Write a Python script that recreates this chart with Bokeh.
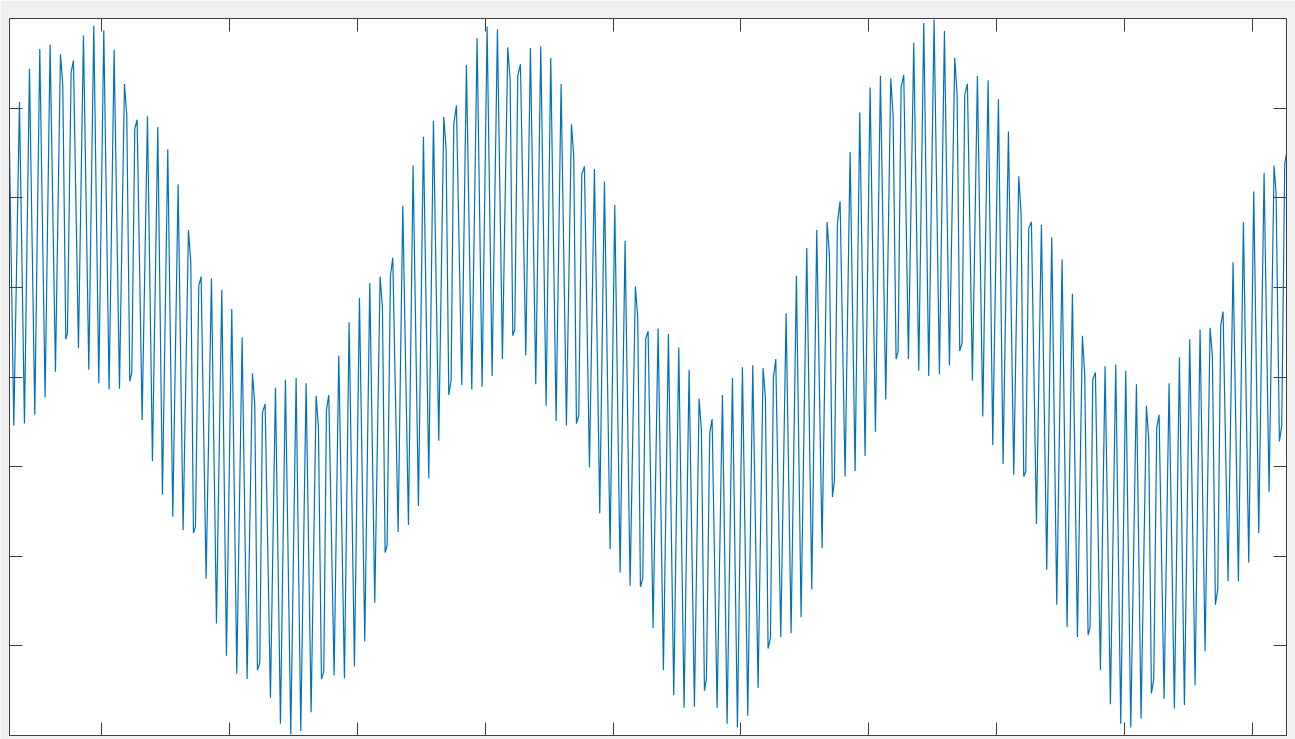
from bokeh.plotting import figure
from bokeh.models import Range1d, LinearAxis, FixedTicker, ColumnDataSource
from bokeh.embed import file_html
from bokeh.resources import INLINE

# ---- data (vertex positions of the trace) ----
# x in sample units (ticks every 100), y in signal units (-4 .. 4)
x_part1 = [28.10, 31.46, 35.89, 39.79, 43.70, 47.87, 51.78, 55.95, 59.86, 64.03,
           67.94, 69.76, 72.11, 73.41, 76.28, 78.10, 82.01, 85.92, 90.09, 94.00,
           97.91, 101.82, 105.99, 109.90, 114.07, 117.97, 119.80, 122.14, 123.71, 126.05,
           127.88, 131.79, 135.96, 139.86, 144.03, 147.68, 151.85, 155.76, 159.93, 163.84,
           168.01, 169.83, 171.92, 173.48, 176.09, 177.91, 181.82, 185.99, 189.90, 194.07,
           197.72, 201.89, 205.80, 209.97, 213.88, 218.04, 219.87, 221.95, 223.78, 225.86,
           227.95, 232.12, 236.03, 239.94, 243.84, 248.01, 252.18, 255.83, 260.00, 263.91,
           267.82, 269.64, 271.99, 273.81, 275.90, 277.72, 281.89, 285.54, 289.97, 293.62,
           297.79, 301.70, 305.87, 309.78, 313.68, 317.85, 319.68, 321.76, 323.33, 325.93,
           327.76, 331.93, 335.58, 340.01, 343.65, 347.82, 351.73, 355.90, 359.55]
y_part1 = [2.54, -0.54, 3.07, -0.52, 3.44, -0.42, 3.66, -0.23, 3.71, 0.06,
           3.60, 3.26, 0.42, 0.49, 3.40, 3.53, 0.32, 3.81, 0.08, 3.92,
           -0.07, 3.87, -0.14, 3.65, -0.13, 3.27, 2.92, -0.05, 0.05, 2.77,
           2.87, -0.48, 2.91, -0.94, 2.79, -1.31, 2.54, -1.56, 2.15, -1.71,
           1.64, 1.28, -1.74, -1.67, 1.02, 1.12, -2.25, 1.10, -2.75, 0.97,
           -3.11, 0.76, -3.31, 0.44, -3.37, 0.04, -0.31, -3.27, -3.19, -0.40,
           -0.30, -3.58, -0.12, -3.87, -0.03, -3.99, -0.01, -3.95, -0.07, -3.74,
           -0.21, -0.57, -3.37, -3.29, -0.37, -0.20, -3.33, 0.24, -3.36, 0.61,
           -3.23, 0.88, -2.95, 1.05, -2.52, 1.12, 0.77, -1.96, -1.88, 1.13,
           1.33, -1.73, 1.91, -1.65, 2.36, -1.44, 2.68, -1.13, 2.86]

x_part2 = [363.72, 367.63, 369.45, 371.54, 373.36, 375.45, 377.53, 381.70, 385.35, 389.52,
           393.69, 397.60, 401.51, 405.42, 409.59, 413.49, 417.66, 419.49, 421.57, 423.14,
           425.48, 427.57, 431.74, 435.39, 439.55, 443.46, 447.63, 451.28, 455.45, 459.36,
           463.53, 467.44, 469.26, 471.35, 473.17, 475.52, 477.60, 481.51, 485.42, 489.59,
           493.24, 497.67, 501.32, 505.49, 509.40, 513.30, 517.47, 519.30, 521.38, 523.21,
           525.55, 527.38, 531.29, 535.20, 539.36, 543.27, 547.44, 551.35, 555.52, 559.43,
           563.60, 567.25, 569.07, 571.42, 572.98, 575.59, 577.41, 581.32, 585.49, 589.14,
           593.31, 597.22, 601.13, 605.30, 609.21, 613.37, 617.28, 619.11, 621.19, 623.02,
           625.36, 627.19, 631.10, 635.27, 639.17, 643.34, 646.99, 651.42, 655.33, 659.24,
           663.41, 667.32, 669.14, 671.49, 673.05, 675.40, 677.48, 681.39, 685.30, 689.21,
           692.86]
y_part2 = [-0.71, 2.90, 2.54, -0.20, -0.03, 2.82, 3.03, -0.09, 3.48, -0.14,
           3.78, -0.11, 3.91, 0.01, 3.88, 0.20, 3.68, 3.32, 0.46, 0.53,
           3.36, 3.49, 0.24, 3.67, -0.08, 3.69, -0.32, 3.56, -0.49, 3.27,
           -0.54, 2.82, 2.46, -0.52, -0.43, 2.26, 2.35, -1.01, 2.32, -1.52,
           2.18, -1.92, 1.92, -2.18, 1.52, -2.33, 1.01, 0.66, -2.34, -2.25,
           0.43, 0.51, -2.80, 0.54, -3.27, 0.48, -3.55, 0.33, -3.69, 0.08,
           -3.68, -0.24, -0.60, -3.50, -3.37, -0.62, -0.47, -3.69, -0.20, -3.87,
           -0.01, -3.91, 0.11, -3.78, 0.13, -3.47, 0.10, -0.24, -3.03, -2.91,
           -0.01, 0.20, -2.90, 0.71, -2.86, 1.13, -2.68, 1.44, -2.37, 1.64,
           -1.91, 1.73, 1.36, -1.34, -1.16, 1.72, 1.96, -1.11, 2.51, -1.05,
           2.95]

x_part3 = [697.03, 700.94, 705.11, 709.02, 713.18, 717.09, 718.92, 721.26, 722.83, 725.17,
           727.26, 730.91, 735.08, 738.98, 742.89, 746.80, 750.97, 755.14, 759.05, 762.96,
           767.13, 768.95, 771.04, 772.86, 774.95, 777.03, 780.94, 784.85, 789.02, 793.19,
           796.84, 801.27, 804.92, 809.09, 813.26, 817.16, 818.99, 821.07, 822.64, 824.98,
           827.07, 830.98, 834.88, 839.05, 842.96, 846.87, 851.04, 854.95, 859.12, 863.03,
           866.93, 868.76, 871.37, 872.93, 875.02, 877.10, 881.01, 884.66, 888.83, 893.00,
           896.91, 900.82, 904.73, 909.16, 912.80, 916.97, 918.80, 920.88, 922.71, 925.05,
           926.88, 930.79, 934.69, 938.86, 942.77, 946.68, 950.85, 955.02, 958.93, 962.84,
           966.75, 968.57, 970.92, 972.74, 975.09, 976.91, 980.82, 984.73, 988.90, 992.81,
           996.98, 1000.89, 1004.80, 1008.97, 1012.87, 1016.78, 1018.35, 1020.95, 1022.78, 1025.12,
           1026.43]
y_part3 = [-0.88, 3.23, -0.61, 3.36, -0.25, 3.33, 2.92, 0.20, 0.28, 3.23,
           3.37, 0.20, 3.73, 0.07, 3.95, 0.01, 3.99, 0.03, 3.86, 0.13,
           3.56, 3.15, 0.29, 0.38, 3.15, 3.27, -0.04, 3.36, -0.44, 3.31,
           -0.76, 3.10, -0.97, 2.74, -1.09, 2.24, 1.82, -1.11, -1.06, 1.66,
           1.73, -1.64, 1.70, -2.15, 1.56, -2.54, 1.31, -2.79, 0.93, -2.90,
           0.46, 0.02, -2.88, -2.79, -0.03, 0.05, -3.27, 0.12, -3.65, 0.14,
           -3.87, 0.07, -3.91, -0.08, -3.81, -0.32, -0.70, -3.53, -3.37, -0.57,
           -0.42, -3.59, -0.07, -3.70, 0.22, -3.66, 0.42, -3.44, 0.53, -3.06,
           0.55, 0.23, -2.54, -2.37, 0.58, 0.73, -2.28, 1.28, -2.28, 1.73,
           -2.07, 2.07, -1.74, 2.28, -1.28, 2.36, 2.05, -0.72, -0.54, 2.38,
           2.49]

x_ticks = [100, 200, 300, 400, 500, 600, 700, 800, 900, 1000]
y_ticks = [-3, -2, -1, 0, 1, 2, 3]
x_limits = (28.1, 1026.5)
y_limits = (-4, 4)

xs = x_part1 + x_part2 + x_part3
ys = y_part1 + y_part2 + y_part3
source = ColumnDataSource(data=dict(x=xs, y=ys))

AX = "#404040"

p = figure(width=1295, height=739, output_backend="svg", toolbar_location=None,
           x_range=Range1d(*x_limits), y_range=Range1d(*y_limits),
           min_border_left=9, min_border_right=9, min_border_top=18, min_border_bottom=4,
           background_fill_color="white", border_fill_color="#f0f0f0")

p.add_layout(LinearAxis(), "above")
p.add_layout(LinearAxis(), "right")

for ax in p.xaxis:
    ax.ticker = FixedTicker(ticks=x_ticks)
for ax in p.yaxis:
    ax.ticker = FixedTicker(ticks=y_ticks)
for ax in p.axis:
    ax.major_tick_in = 13
    ax.major_tick_out = 0
    ax.minor_tick_in = 0
    ax.minor_tick_out = 0
    ax.minor_tick_line_color = None
    ax.major_label_text_color = None
    ax.major_label_text_font_size = "1px"
    ax.major_label_standoff = 0
    ax.axis_line_color = AX
    ax.major_tick_line_color = AX
    ax.axis_line_width = 1
    ax.major_tick_line_width = 1

p.xgrid.visible = False
p.ygrid.visible = False
p.outline_line_color = AX

p.line("x", "y", source=source, line_color="#0072BD", line_width=1.2)

open("out.html", "w").write(file_html(p, INLINE))
